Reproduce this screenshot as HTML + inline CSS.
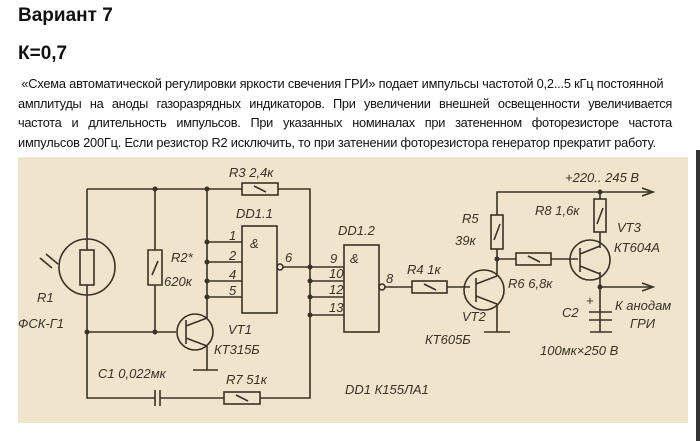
<!DOCTYPE html>
<html><head><meta charset="utf-8"><style>
body{margin:0;width:700px;height:441px;background:#fff;position:relative;overflow:hidden;font-family:"Liberation Sans",sans-serif;color:#111}
.t{position:absolute;left:18px;font-weight:bold;font-size:19px}
.p{position:absolute;left:18px;top:74px;width:654px;font-size:12.8px;line-height:19.5px;letter-spacing:-0.2px}
.p div{white-space:nowrap}
.j{text-align:justify;text-align-last:justify;letter-spacing:-0.3px}
svg{position:absolute;left:0;top:0}
svg text{font-family:"Liberation Sans",sans-serif;font-style:italic;font-size:13px;fill:#3a3128}
</style></head><body>
<div class="t" style="top:5px">Вариант 7</div>
<div class="t" style="top:43px">К=0,7</div>
<div class="p">
<div>&nbsp;«Схема автоматической регулировки яркости свечения ГРИ» подает импульсы частотой 0,2...5 кГц постоянной</div>
<div class="j">амплитуды на аноды газоразрядных индикаторов. При увеличении внешней освещенности увеличивается</div>
<div class="j">частота и длительность импульсов. При указанных номиналах при затененном фоторезисторе частота</div>
<div>импульсов 200Гц. Если резистор R2 исключить, то при затенении фоторезистора генератор прекратит работу.</div>
</div>
<svg width="700" height="441" viewBox="0 0 700 441">
<rect x="18" y="157" width="670" height="266" fill="#f0e4cd"/>
<rect x="696" y="150" width="4" height="291" fill="#333"/>
<g stroke="#3a3128" stroke-width="1.6" fill="none">
<path d="M87 189H242M278 189H310V398H260M224 398H160M155 398H87V285M87 250V189"/>
<circle cx="87" cy="267" r="28"/>
<rect x="80" y="250" width="14" height="35"/>
<path d="M40 258l12 10M46 254l12 10"/>
<rect x="242" y="183" width="36" height="12"/><path d="M254 186l12 6"/>
<path d="M155 189V250M155 285V332M148 250h14v35h-14z M152 275l6-14"/>
<path d="M87 332H176"/>
<path d="M207 189V318M207 346V370M193 370H218"/>
<circle cx="195" cy="332" r="18"/>
<path d="M186 320V344M186 326L207 318M186 338L207 346"/>
<path d="M207 242H242M207 262H242M207 281H242M207 297H242"/>
<rect x="242" y="226" width="35" height="87"/>
<circle cx="280" cy="267" r="3"/>
<path d="M283 267H344M310 281H344M310 297H344M310 315H344"/>
<rect x="344" y="245" width="35" height="87"/>
<circle cx="382" cy="287" r="3"/>
<path d="M385 287H412M447 287H470"/>
<rect x="412" y="281" width="35" height="12"/><path d="M424 284l12 6"/>
<rect x="224" y="392" width="36" height="12"/><path d="M236 395l12 6"/>
<path d="M155 390V406M160 390V406"/>
<circle cx="484" cy="290" r="20"/>
<path d="M476 278V302M476 284L497 276M476 296L497 304M497 259V276M497 304V332M484 332H510"/>
<path d="M497 259V249M497 215V192H653M497 259H516M551 259H578"/>
<rect x="491" y="215" width="12" height="34"/><path d="M494 240l6-16"/>
<rect x="516" y="253" width="35" height="12"/><path d="M528 256l12 6"/>
<rect x="594" y="199" width="12" height="33"/><path d="M597 224l6-16"/>
<path d="M600 192V199M600 232V248M600 272V332M600 287H653"/>
<circle cx="590" cy="260" r="20"/>
<path d="M580 248V272M580 254L600 246M580 266L600 274"/>
<path d="M589 312H612M589 320H612M590 332H612"/>
<path d="M642 188l11 4-11 4M642 283l11 4-11 4"/>
</g>
<g fill="#3a3128"><circle cx="155" cy="189" r="2.5"/><circle cx="207" cy="189" r="2.5"/><circle cx="207" cy="242" r="2.5"/><circle cx="207" cy="262" r="2.5"/><circle cx="207" cy="281" r="2.5"/><circle cx="207" cy="297" r="2.5"/><circle cx="87" cy="332" r="2.5"/><circle cx="155" cy="332" r="2.5"/><circle cx="310" cy="267" r="2.5"/><circle cx="310" cy="281" r="2.5"/><circle cx="310" cy="297" r="2.5"/><circle cx="310" cy="315" r="2.5"/><circle cx="497" cy="259" r="2.5"/><circle cx="600" cy="192" r="2.5"/><circle cx="600" cy="287" r="2.5"/></g>
<text x="229" y="177">R3  2,4к</text>
<text x="236" y="218">DD1.1</text>
<text x="250" y="248" font-size="16">&amp;</text>
<text x="229" y="240" font-size="11">1</text><text x="229" y="260" font-size="11">2</text><text x="229" y="279" font-size="11">4</text><text x="229" y="295" font-size="11">5</text>
<text x="285" y="262" font-size="11">6</text>
<text x="171" y="262">R2*</text><text x="164" y="286">620к</text>
<text x="37" y="302">R1</text><text x="18" y="328">ФСК-Г1</text>
<text x="228" y="334">VT1</text><text x="214" y="354">КТ315Б</text>
<text x="98" y="378">C1  0,022мк</text><text x="226" y="384">R7  51к</text>
<text x="338" y="235">DD1.2</text>
<text x="350" y="263" font-size="16">&amp;</text>
<text x="330" y="263" font-size="10">9</text><text x="329" y="278" font-size="10">10</text><text x="329" y="294" font-size="10">12</text><text x="329" y="312" font-size="10">13</text>
<text x="386" y="283" font-size="11">8</text>
<text x="407" y="274">R4  1к</text>
<text x="462" y="223">R5</text><text x="455" y="245">39к</text>
<text x="508" y="288">R6  6,8к</text>
<text x="462" y="321">VT2</text><text x="425" y="344">КТ605Б</text>
<text x="565" y="182">+220.. 245 В</text>
<text x="535" y="215">R8 1,6к</text>
<text x="617" y="232">VT3</text><text x="614" y="252">КТ604А</text>
<text x="562" y="317">C2</text><text x="586" y="305">+</text>
<text x="615" y="310">К анодам</text><text x="630" y="328">ГРИ</text>
<text x="540" y="355">100мк×250 В</text>
<text x="345" y="394">DD1   К155ЛА1</text>
</svg>
</body></html>
